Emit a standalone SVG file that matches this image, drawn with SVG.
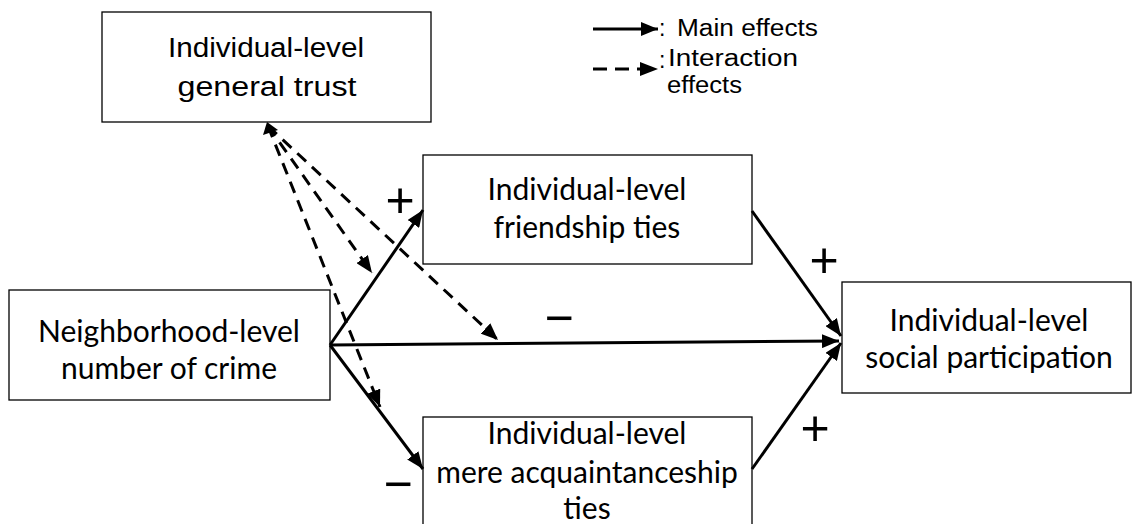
<svg xmlns="http://www.w3.org/2000/svg" width="1132" height="524" viewBox="0 0 1132 524">
  <style>
    .box { fill: #ffffff; stroke: #000000; stroke-width: 1.3; }
    .lbl { font-family: Lato, "Open Sans", sans-serif; font-size: 30px; fill: #000000; text-anchor: middle; }
    .lbla { font-family: "Liberation Sans", Arial, sans-serif; font-size: 27px; fill: #000000; text-anchor: middle; }
    .leg { font-family: "Liberation Sans", Arial, sans-serif; font-size: 23px; fill: #000000; }
    .sign { font-family: "Liberation Sans", Arial, sans-serif; font-size: 50px; fill: #000000; text-anchor: middle; }
    .main { fill: none; stroke: #000000; stroke-width: 3; marker-end: url(#head); }
    .inter { fill: none; stroke: #000000; stroke-width: 3; stroke-dasharray: 12 8; marker-end: url(#head); }
  </style>
  <defs>
    <marker id="head" markerUnits="userSpaceOnUse" markerWidth="18" markerHeight="14" refX="17" refY="7" orient="auto">
      <path d="M0,0 L17,7 L0,14 Z" fill="#000000"/>
    </marker>
  </defs>

  <rect width="1132" height="524" fill="#ffffff"/>

  <!-- nodes -->
  <g id="trust">
    <rect class="box" x="102" y="12" width="329" height="110"/>
    <text class="lbla" x="266" y="57" textLength="196" lengthAdjust="spacingAndGlyphs">Individual-level</text>
    <text class="lbla" x="267" y="96" textLength="179" lengthAdjust="spacingAndGlyphs">general trust</text>
  </g>

  <g id="crime">
    <rect class="box" x="9" y="290" width="321" height="110"/>
    <text class="lbl" x="169" y="342">Neighborhood-level</text>
    <text class="lbl" x="169" y="379">number of crime</text>
  </g>

  <g id="friendship">
    <rect class="box" x="423" y="155" width="329" height="109"/>
    <text class="lbl" x="587" y="200">Individual-level</text>
    <text class="lbl" x="587" y="238">friendship ties</text>
  </g>

  <g id="acquaintance">
    <rect class="box" x="423" y="417" width="329" height="120"/>
    <text class="lbl" x="587" y="444">Individual-level</text>
    <text class="lbl" x="587" y="483">mere acquaintanceship</text>
    <text class="lbl" x="587" y="519">ties</text>
  </g>

  <g id="participation">
    <rect class="box" x="842" y="282" width="289" height="111"/>
    <text class="lbl" x="989" y="331">Individual-level</text>
    <text class="lbl" x="989" y="368">social participation</text>
  </g>

  <!-- connectors -->
  <g id="connectors">
    <line class="main" x1="330" y1="345" x2="423" y2="210"/>
    <line class="main" x1="330" y1="345" x2="839" y2="341"/>
    <line class="main" x1="330" y1="345" x2="423" y2="469"/>
    <line class="main" x1="752" y1="211" x2="841" y2="336"/>
    <line class="main" x1="752" y1="469" x2="841" y2="343"/>

    <line class="inter" x1="268" y1="126" x2="372" y2="273"/>
    <line class="inter" x1="268" y1="126" x2="498" y2="340"/>
    <line class="inter" x1="268" y1="126" x2="380" y2="407"/>
    <polygon points="267,122 263,135 278,130" fill="#000000"/>
  </g>

  <!-- signs -->
  <g id="signs">
    <text class="sign" x="400" y="217">+</text>
    <text class="sign" x="824" y="277">+</text>
    <text class="sign" x="815" y="445">+</text>
    <text class="sign" x="559" y="335">−</text>
    <text class="sign" x="398" y="501">−</text>
  </g>

  <!-- legend -->
  <g id="legend">
    <line class="main" x1="593" y1="29" x2="658" y2="29"/>
    <text class="leg" x="659" y="36">:</text>
    <text class="leg" x="677" y="36" textLength="141" lengthAdjust="spacingAndGlyphs">Main effects</text>
    <line x1="593" y1="69" x2="640" y2="69" stroke="#000000" stroke-width="3" stroke-dasharray="14 8"/>
    <path d="M640,62 L658,69 L640,76 Z" fill="#000000"/>
    <text class="leg" x="659" y="68">:</text>
    <text class="leg" x="668" y="66" textLength="130" lengthAdjust="spacingAndGlyphs">Interaction</text>
    <text class="leg" x="667" y="93" textLength="75" lengthAdjust="spacingAndGlyphs">effects</text>
  </g>
</svg>
